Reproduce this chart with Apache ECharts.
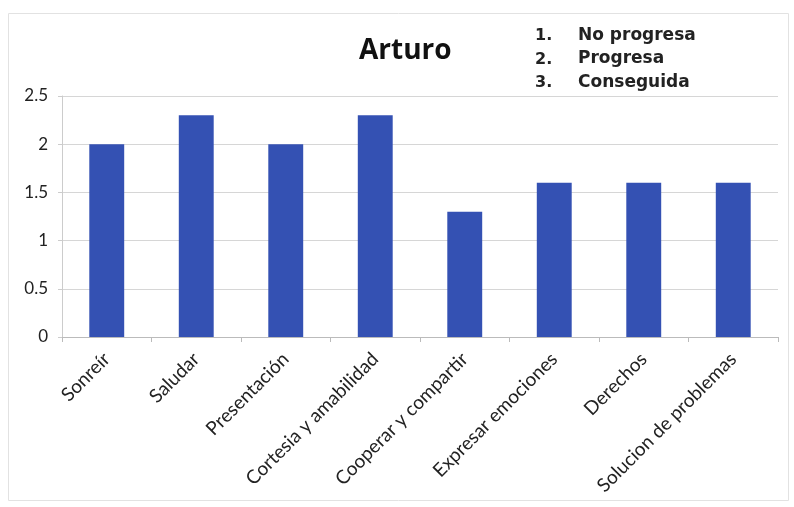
<!DOCTYPE html>
<html>
<head>
<meta charset="utf-8">
<script src="https://cdn.jsdelivr.net/npm/echarts@6/dist/echarts.min.js"></script>
<style>
  html, body { margin: 0; padding: 0; background: #fff; }
  #chart { width: 794px; height: 507px; }
</style>
</head>
<body>
<div id="chart"></div>
<script>
// datos del grafico
var categorias = ["Sonreír", "Saludar", "Presentación", "Cortesia y amabilidad",
  "Cooperar y compartir", "Expresar emociones", "Derechos", "Solucion de problemas"];
var valores = [2, 2.3, 2, 2.3, 1.3, 1.6, 1.6, 1.6];
var numeros = ["1.", "2.", "3."];
var niveles = ["No progresa", "Progresa", "Conseguida"];

var myChart = echarts.init(document.getElementById("chart"));

// leyenda de texto (no es una leyenda de series)
var textos = [];
niveles.forEach(function (t, i) {
  textos.push({
    type: "text", left: 535, top: 28 + i * 23.5,
    style: { text: numeros[i], font: "bold 16px 'DejaVu Sans'", fill: "#222" }
  });
  textos.push({
    type: "text", left: 578, top: 27 + i * 23.5,
    style: { text: t, font: "bold 17px 'DejaVu Sans'", fill: "#222" }
  });
});
textos.push({
  type: "rect", left: 6, top: 11, silent: true,
  shape: { width: 780, height: 487 },
  style: { fill: "none", stroke: "#e2e2e2", lineWidth: 1 }
});

var option = {
  textStyle: { fontFamily: "Lato" },
  title: {
    text: "Arturo",
    left: 354, top: 32,
    textStyle: { fontSize: 28, fontWeight: "bold", color: "#111", fontFamily: "Open Sans" }
  },
  graphic: textos,
  grid: { left: 62, right: 16, top: 96, bottom: 170 },
  xAxis: {
    type: "category",
    data: categorias,
    axisLine: { lineStyle: { color: "#bbb" } },
    axisTick: { show: true, length: 5, lineStyle: { color: "#bbb" } },
    axisLabel: { rotate: 45, fontSize: 19, color: "#222", margin: 19, fontFamily: "Lato" }
  },
  yAxis: {
    type: "value",
    min: 0, max: 2.5, interval: 0.5,
    axisLine: { show: true, lineStyle: { color: "#ccc" } },
    axisTick: { show: true, length: 4, lineStyle: { color: "#ccc" } },
    axisLabel: { fontSize: 17, color: "#222", margin: 14, fontFamily: "Lato" },
    splitLine: { lineStyle: { color: "#d6d6d6" } }
  },
  series: [
    {
      type: "bar",
      data: valores,
      barWidth: "39%",
      itemStyle: { color: "#3451b3" },
      silent: true
    }
  ]
};
myChart.setOption(option);
</script>
</body>
</html>
